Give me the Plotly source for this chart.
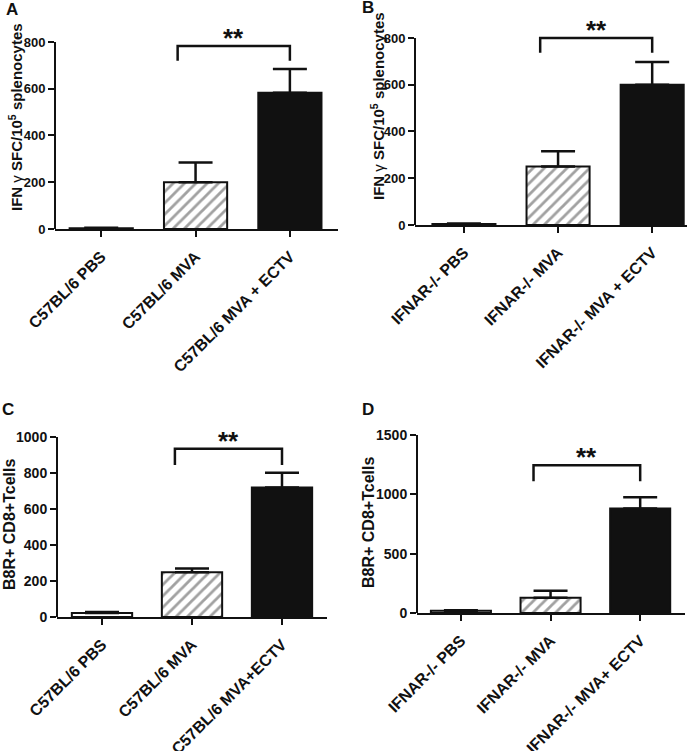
import plotly.graph_objects as go

# ---------------- data ----------------
cats_A = ["C57BL/6 PBS", "C57BL/6 MVA", "C57BL/6 MVA + ECTV"]
vals_A = [3, 200, 583]
err_A = [2, 85, 102]

cats_B = ["IFNAR-/- PBS", "IFNAR-/- MVA", "IFNAR-/- MVA + ECTV"]
vals_B = [4, 250, 600]
err_B = [2, 65, 97]

cats_C = ["C57BL/6 PBS", "C57BL/6 MVA", "C57BL/6 MVA+ECTV"]
vals_C = [22, 248, 720]
err_C = [6, 22, 82]

cats_D = ["IFNAR-/- PBS", "IFNAR-/- MVA", "IFNAR-/- MVA+ ECTV"]
vals_D = [18, 128, 880]
err_D = [5, 60, 95]

yticks_A = [0, 200, 400, 600, 800]
yticks_B = [0, 200, 400, 600, 800]
yticks_C = [0, 200, 400, 600, 800, 1000]
yticks_D = [0, 500, 1000, 1500]

ylabel_AB = "IFN <span style='font-weight:normal'>γ</span> SFC/10<sup>5</sup> splenocytes"
ylabel_CD = "B8R+ CD8+Tcells"

# significance: (bar i, bar j, bracket y, leg bottom y, label)
sig_A = (1, 2, 783, 720, "**")
sig_B = (1, 2, 800, 737, "**")
sig_C = (1, 2, 935, 845, "**")
sig_D = (1, 2, 1245, 1110, "**")

# ---------------- layout geometry (pixels) ----------------
W, H = 700, 751
FONT = "Liberation Sans, Arial, sans-serif"
BLACK = "#111111"

panels = [
    dict(c=cats_A, v=vals_A, e=err_A, t=yticks_A, s=sig_A, l=55, r=338, z=229, tp=42,
         xr=[-0.49, 2.51], ytop=900, yl=ylabel_AB, lx=15, ly=117, L="A", Lxy=(12, 9), tf=13, ys=15),
    dict(c=cats_B, v=vals_B, e=err_B, t=yticks_B, s=sig_B, l=415, r=687, z=225, tp=38,
         xr=[-0.52, 2.37], ytop=900, yl=ylabel_AB, lx=377, ly=106, L="B", Lxy=(368, 8), tf=13, ys=15),
    dict(c=cats_C, v=vals_C, e=err_C, t=yticks_C, s=sig_C, l=57, r=327, z=617, tp=437,
         xr=[-0.5, 2.5], ytop=1100, yl=ylabel_CD, lx=9, ly=525, L="C", Lxy=(8, 409), tf=14, ys=16),
    dict(c=cats_D, v=vals_D, e=err_D, t=yticks_D, s=sig_D, l=417, r=685, z=613, tp=435,
         xr=[-0.49, 2.5], ytop=1600, yl=ylabel_CD, lx=368, ly=523, L="D", Lxy=(368, 409), tf=14, ys=16),
]

fig = go.Figure()
layout = dict(
    width=W, height=H,
    margin=dict(l=0, r=0, t=0, b=0),
    paper_bgcolor="white", plot_bgcolor="white",
    showlegend=False,
    font=dict(family=FONT, color=BLACK),
)
shapes = []
annotations = []

fills = ["white", "white", BLACK]
patterns = ["", "/", ""]

for k, p in enumerate(panels):
    n = "" if k == 0 else str(k + 1)
    xa, ya = "x" + n, "y" + n
    ymax = max(p["t"])
    scale = (p["z"] - p["tp"]) / ymax          # px per unit
    top_px = p["z"] - p["ytop"] * scale
    dom_y = [(H - p["z"]) / H, (H - top_px) / H]
    dom_x = [p["l"] / W, p["r"] / W]

    fig.add_trace(go.Bar(
        x=list(range(len(p["c"]))), y=p["v"], width=0.67,
        xaxis=xa, yaxis=ya,
        marker=dict(color=fills, line=dict(color=BLACK, width=2),
                    pattern=dict(shape=patterns, fgcolor=BLACK, bgcolor="white",
                                 size=8, solidity=0.35)),
        error_y=dict(type="data", array=p["e"], arrayminus=[0] * len(p["e"]),
                     symmetric=False, color=BLACK, thickness=2.5, width=17),
        hoverinfo="skip",
    ))

    layout["xaxis" + n] = dict(
        domain=dom_x, anchor=ya, range=p["xr"],
        tickvals=list(range(len(p["c"]))), ticktext=p["c"], tickangle=-45,
        showline=True, linecolor=BLACK, linewidth=2,
        ticks="outside", ticklen=6, tickwidth=2, tickcolor=BLACK,
        ticklabelstandoff=4,
        showgrid=False, zeroline=False, automargin=False,
        tickfont=dict(family=FONT, size=16, color=BLACK, weight="bold"),
    )
    layout["yaxis" + n] = dict(
        domain=dom_y, anchor=xa, range=[0, p["ytop"]],
        tickvals=p["t"], showline=False,
        ticks="outside", ticklen=6, tickwidth=2, tickcolor=BLACK,
        showgrid=False, zeroline=False, automargin=False,
        tickfont=dict(family=FONT, size=p["tf"], color=BLACK, weight="bold"),
    )
    # y axis line from 0 to the top tick
    shapes.append(dict(type="line", xref=xa + " domain", yref=ya,
                       x0=0, x1=0, y0=0, y1=ymax,
                       line=dict(color=BLACK, width=2)))
    # significance bracket
    i, j, yb, yleg, lab = p["s"]
    xl = i - 0.19
    xr = j
    shapes.append(dict(type="path", xref=xa, yref=ya,
                       path=f"M {xl},{yleg} L {xl},{yb} L {xr},{yb} L {xr},{yleg}",
                       line=dict(color=BLACK, width=2.5)))
    annotations.append(dict(xref=xa, yref=ya, x=(xl + xr) / 2, y=yb,
                            text=lab, showarrow=False, yanchor="middle", yshift=8,
                            font=dict(family=FONT, size=26, color=BLACK, weight="bold")))
    # y axis title
    annotations.append(dict(xref="paper", yref="paper", x=p["lx"] / W, y=(H - p["ly"]) / H,
                            text=p["yl"], textangle=-90, showarrow=False,
                            xanchor="center", yanchor="middle",
                            font=dict(family=FONT, size=p["ys"], color=BLACK, weight="bold")))
    # panel letter
    annotations.append(dict(xref="paper", yref="paper", x=p["Lxy"][0] / W, y=(H - p["Lxy"][1]) / H,
                            text=p["L"], showarrow=False, xanchor="center", yanchor="middle",
                            font=dict(family=FONT, size=17, color=BLACK, weight="bold")))

layout["shapes"] = shapes
layout["annotations"] = annotations
fig.update_layout(**layout)
fig.write_html("out.html",
               config={"displayModeBar": False},
               post_script="document.body.style.margin='0px';document.body.style.overflow='hidden';")
